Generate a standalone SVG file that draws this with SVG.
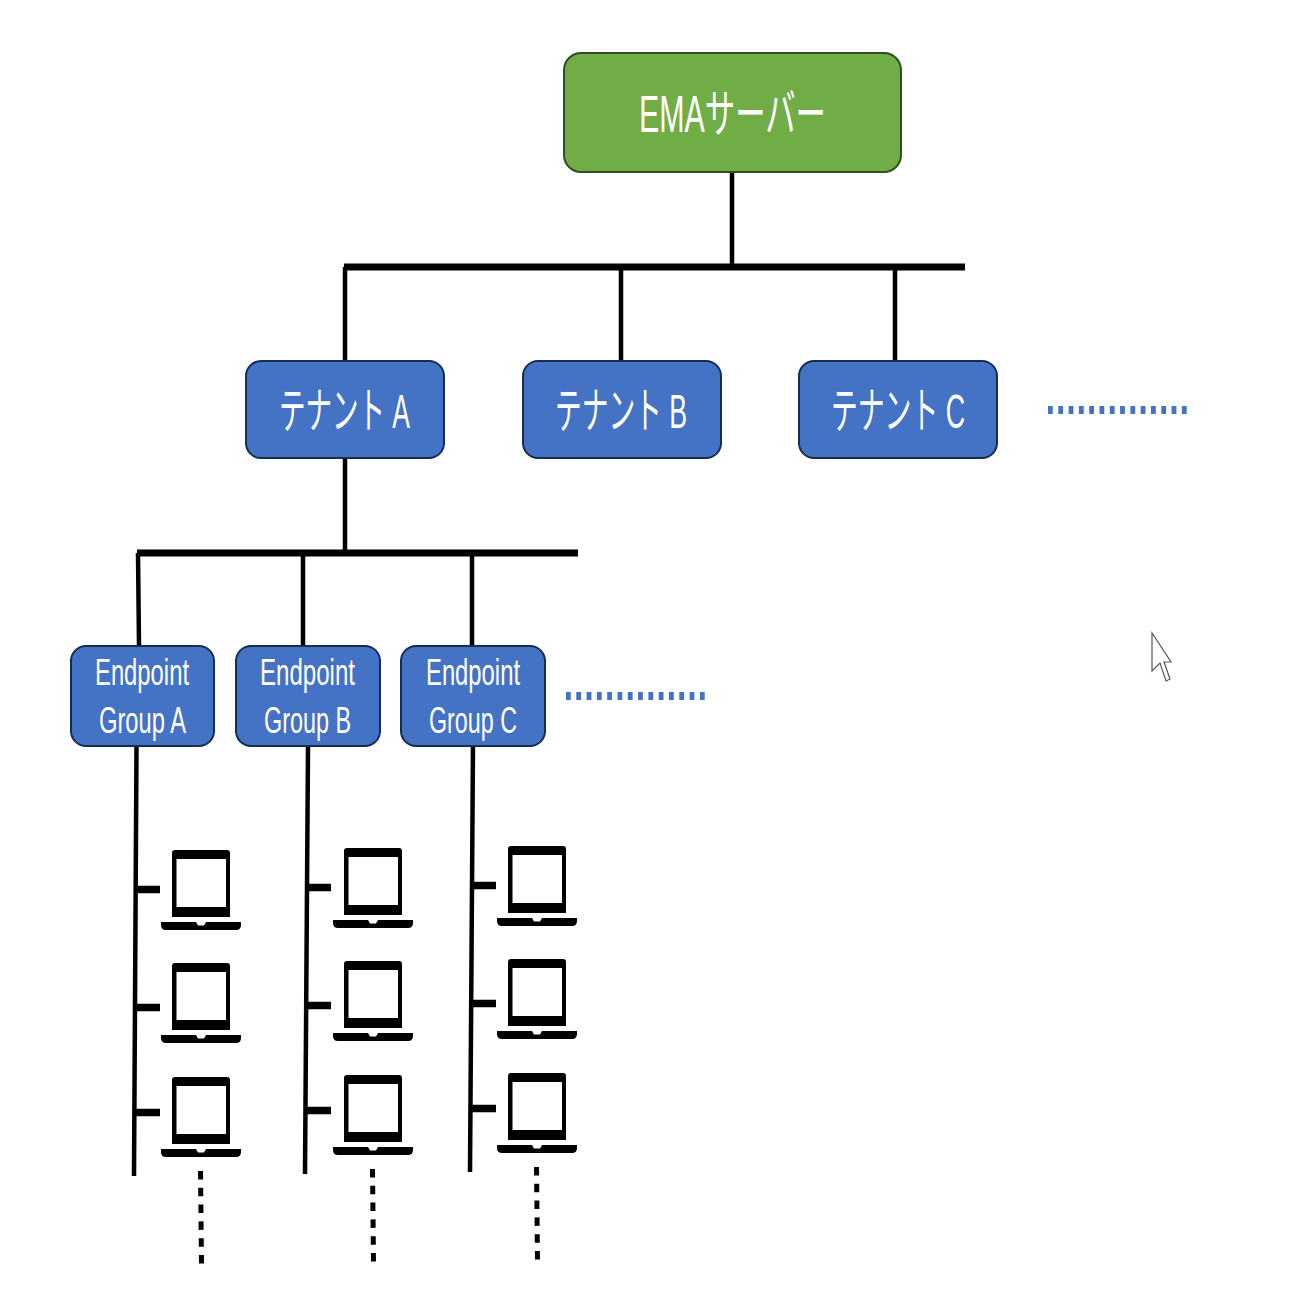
<svg xmlns="http://www.w3.org/2000/svg" width="1298" height="1298" viewBox="0 0 1298 1298">
<style>
.t{font-family:"Liberation Sans","Noto Sans CJK JP",sans-serif;fill:#fff;text-anchor:start}
.b{fill:#4472c4;stroke:#172c51;stroke-width:2}
.g{fill:#70ad47;stroke:#2f4f1f;stroke-width:2}
.c{stroke:#000;fill:none}
.d{stroke:#4472c4;stroke-width:8;stroke-dasharray:4.800 5.500;fill:none}
.k{stroke:#000;stroke-width:5;stroke-dasharray:8.500 8.300;fill:none}
</style>
<defs>
<g id="laptop">
<path fill-rule="evenodd" d="M172 853q0-3 3-3h52q3 0 3 3v64h-58zM176.500 859v48h49.500v-48z"/>
<path d="M161 922h35l2 3.500h6l2-3.500h35v3q0 5-5 5h-70q-5 0-5-5z"/>
</g>
</defs>
<rect width="1298" height="1298" fill="#fff"/>
<g id="connectors">
<path class="c" stroke-width="4.500" d="M732 172V265M345 267V361M621 267V361M895 267V361M345 458V551M138 553L139 646M303 553V646M472 553V646"/>
<path class="c" stroke-width="7" d="M344 267H965M137 553H578"/>
<path class="c" stroke-width="4.500" d="M136.500 746L134 1176M308 746L305 1174M473 744L470 1172"/>
<path class="c" stroke-width="7.500" d="M136 889.500H160M135 1007.500H160M134 1112.500H160M307 887.500H331M306 1005.500H331M305 1110.500H331M472 885.500H496M471 1003.500H496M470 1108.500H496"/>
</g>
<g id="node-ema"><rect class="g" x="564" y="53" width="337" height="119" rx="17"/><text class="t" x="639" y="132" font-size="51" textLength="187" lengthAdjust="spacingAndGlyphs">EMAサーバー</text></g>
<g id="node-tenant-a"><rect class="b" x="246" y="361" width="198" height="97" rx="15"/><text class="t" x="279" y="428" font-size="49" textLength="131" lengthAdjust="spacingAndGlyphs">テナント A</text></g>
<g id="node-tenant-b"><rect class="b" x="523" y="361" width="198" height="97" rx="15"/><text class="t" x="555" y="428" font-size="49" textLength="132" lengthAdjust="spacingAndGlyphs">テナント B</text></g>
<g id="node-tenant-c"><rect class="b" x="799" y="361" width="198" height="97" rx="15"/><text class="t" x="831" y="428" font-size="49" textLength="134" lengthAdjust="spacingAndGlyphs">テナント C</text></g>
<g id="node-group-a"><rect class="b" x="71" y="646" width="143" height="100" rx="15"/><text class="t" x="95" y="685" font-size="37" textLength="94" lengthAdjust="spacingAndGlyphs">Endpoint</text><text class="t" x="99" y="733" font-size="37" textLength="87" lengthAdjust="spacingAndGlyphs">Group A</text></g>
<g id="node-group-b"><rect class="b" x="236" y="646" width="144" height="100" rx="15"/><text class="t" x="260" y="685" font-size="37" textLength="95" lengthAdjust="spacingAndGlyphs">Endpoint</text><text class="t" x="264" y="733" font-size="37" textLength="87" lengthAdjust="spacingAndGlyphs">Group B</text></g>
<g id="node-group-c"><rect class="b" x="401" y="646" width="144" height="100" rx="15"/><text class="t" x="426" y="685" font-size="37" textLength="94" lengthAdjust="spacingAndGlyphs">Endpoint</text><text class="t" x="429" y="733" font-size="37" textLength="88" lengthAdjust="spacingAndGlyphs">Group C</text></g>
<g id="more">
<path class="d" d="M1048 410H1188M566 696H706"/>
<path class="k" d="M200.500 1171L201.500 1264M372.500 1169L373.500 1262M536.500 1167L537.500 1260"/>
</g>
<g id="laptops">
<use href="#laptop"/><use href="#laptop" y="113"/><use href="#laptop" y="227"/>
<use href="#laptop" x="172" y="-2"/><use href="#laptop" x="172" y="111"/><use href="#laptop" x="172" y="225"/>
<use href="#laptop" x="336" y="-4"/><use href="#laptop" x="336" y="109"/><use href="#laptop" x="336" y="223"/>
</g>
<path id="cursor" d="M1152 633V671L1160 663L1166 681L1170 679L1164 662L1171 662Z" fill="#fff" stroke="#555" stroke-width="1.200"/>
</svg>
